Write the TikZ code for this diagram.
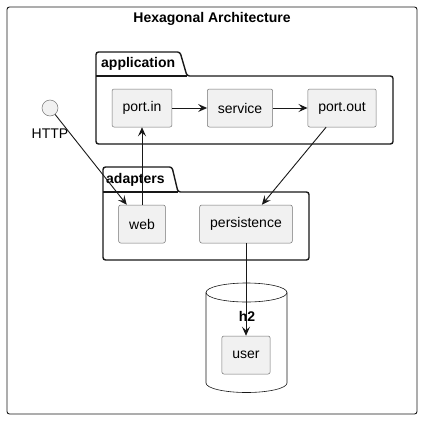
\documentclass[tikz,border=0pt]{standalone}
\usepackage{fontspec}
\setmainfont{Liberation Sans}
\usepackage{xcolor}
\usetikzlibrary{arrows.meta,positioning}
\definecolor{boxfill}{HTML}{F1F1F1}
\definecolor{linecol}{HTML}{181818}

\begin{document}
\begin{tikzpicture}[x=1pt,y=-1pt,
	comp/.style={draw=black!55, fill=boxfill, line width=0.5pt, rounded corners=2pt, minimum height=38pt, inner xsep=10.5pt, font=\fontsize{14}{16}\selectfont},
	pkg/.style={draw=linecol, line width=1.4pt, rounded corners=2.5pt},
	pkgname/.style={anchor=west, inner sep=0pt, font=\bfseries\fontsize{14}{16}\selectfont},
	arr/.style={-{Stealth[length=9pt,width=8pt,inset=3.5pt]}, draw=linecol, line width=0.9pt}
	]
	\useasboundingbox (0,0) rectangle (422,420);
	% frame and title
	\draw[linecol, line width=0.9pt, rounded corners=2.5pt] (7,7) rectangle (417,414);
	\node[font=\bfseries\fontsize{14}{16}\selectfont] (title) at (212,19) {Hexagonal Architecture};

	% packages
	\draw[pkg, fill=white] (96,76) -- (96,52) -- (180,52) -- (187,76) -- (393,76) -- (393,144) -- (96,144) -- cycle;
	\draw[pkg] (96,76) -- (187,76);
	\node[pkgname] (appname) at (101,64) {application};
	\draw[pkg, fill=white] (103,192) -- (103,167) -- (172,167) -- (178,192) -- (309,192) -- (309,260) -- (103,260) -- cycle;
	\draw[pkg] (103,192) -- (178,192);
	\node[pkgname] (adname) at (106,180) {adapters};

	% database
	\draw[linecol, line width=0.6pt, fill=white] (206,292.5) -- (206,383) arc[start angle=180, end angle=0, x radius=40.5, y radius=9.5] -- (287,292.5) arc[start angle=0, end angle=-180, x radius=40.5, y radius=9.5] -- cycle;
	\draw[linecol, line width=0.6pt] (206,292.5) arc[start angle=180, end angle=0, x radius=40.5, y radius=9.5];
	\node[font=\bfseries\fontsize{14}{16}\selectfont, inner sep=0pt] (dbname) at (247,316) {h2};

	% components
	\node[comp] (portin) at (142,108) {port.in};
	\node[comp] (service) at (240,108) {service};
	\node[comp] (portout) at (342,108) {port.out};
	\node[comp] (web) at (142,224) {web};
	\node[comp] (persist) at (246,224) {persistence};
	\node[comp] (user) at (246,355) {user};
	\node[circle, draw=black!55, fill=boxfill, line width=0.5pt, minimum size=16pt, inner sep=0pt,
		label={[font=\fontsize{14}{16}\selectfont, label distance=9pt]below:HTTP}] (http) at (50,108) {};

	% connectors
	\draw[arr] (http) -- (web);
	\draw[arr] (web) -- (portin);
	\draw[arr] (portin) -- (service);
	\draw[arr] (service) -- (portout);
	\draw[arr] (portout) -- (persist);
	\draw[arr] (persist) -- (user);
\end{tikzpicture}
\end{document}
